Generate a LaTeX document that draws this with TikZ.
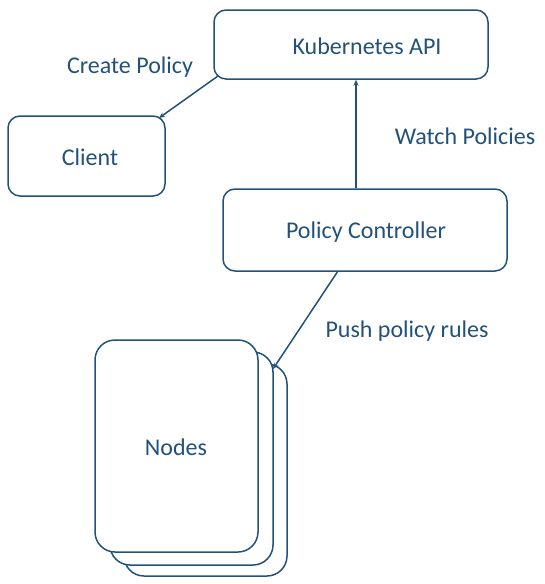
\documentclass[tikz,border=0pt]{standalone}
\usepackage{fontspec}
\setmainfont{Carlito}
\usetikzlibrary{arrows.meta}
\definecolor{ink}{HTML}{22527A}
\begin{document}
\begin{tikzpicture}[x=1pt,y=-1pt,
  box/.style={draw=ink,line width=1.5pt,rounded corners=12pt,fill=white},
  card/.style={draw=ink,line width=1.5pt,rounded corners=20pt,fill=white},
  lbl/.style={text=ink,font=\fontsize{24}{28}\selectfont},
  conn/.style={draw=ink,line width=1.5pt,-{Stealth[length=6pt,width=5pt]}}]
\useasboundingbox (0,0) rectangle (545,584);
\node[box,minimum width=274pt,minimum height=69pt] (api) at (351,44.5) {};
\node[lbl] (apit) at (367,46) {Kubernetes API};
\node[box,minimum width=157pt,minimum height=80pt] (client) at (86.5,156) {};
\node[lbl] (clientt) at (90,157) {Client};
\node[box,minimum width=284pt,minimum height=82pt] (ctrl) at (365,230) {};
\node[lbl] (ctrlt) at (366,232) {Policy Controller};
\node[card,minimum width=163pt,minimum height=212pt] (n3) at (205.5,470) {};
\node[card,minimum width=163pt,minimum height=213pt] (n2) at (191.5,458.5) {};
\node[card,minimum width=163pt,minimum height=212pt] (n1) at (176.5,446) {};
\node[lbl] (nodest) at (176,447) {Nodes};
\node[lbl] (create) at (130,67) {Create Policy};
\node[lbl] (watch) at (465,136) {Watch Policies};
\node[lbl] (push) at (407,331) {Push policy rules};
\coordinate (a1) at (218,76);
\coordinate (a2) at (159,118);
\coordinate (p1) at (338,271);
\coordinate (p2) at (273,369);
\draw[conn] (a1) -- (a2);
\draw[conn] (ctrl.north -| 356,0) -- (api.south -| 356,0);
\draw[conn] (p1) -- (p2);
\end{tikzpicture}
\end{document}
